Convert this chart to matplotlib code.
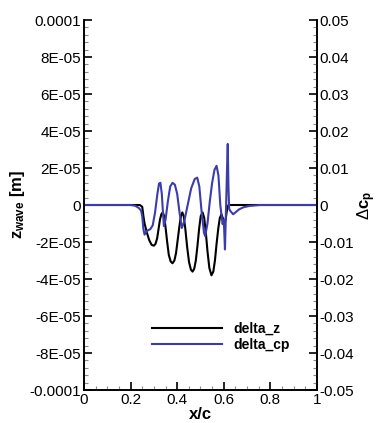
import numpy as np
import matplotlib
matplotlib.use("Agg")
import matplotlib.pyplot as plt
from matplotlib.ticker import MultipleLocator, FuncFormatter

# wave height, x/c vs z (units of 1e-5 m)
x_z = [0.0, 0.24, 0.25, 0.255, 0.26, 0.27, 0.28, 0.29, 0.30, 0.307, 0.314, 0.32,
       0.326, 0.332, 0.338, 0.344, 0.35, 0.357, 0.364, 0.372, 0.38, 0.388,
       0.395, 0.402, 0.409, 0.416, 0.422, 0.428, 0.435, 0.443, 0.451, 0.459,
       0.466, 0.473, 0.48, 0.487, 0.494, 0.501, 0.509, 0.516, 0.523, 0.53,
       0.538, 0.547, 0.555, 0.562, 0.569, 0.576, 0.583, 0.59, 0.597, 0.603,
       0.608, 0.612, 0.617, 0.62, 1.0]
z_wave = [0.0, 0.0, -0.1, -0.6, -1.0, -1.5, -1.9, -2.15, -2.2, -2.1, -1.8, -1.3,
          -0.8, -0.5, -0.4, -0.6, -1.2, -2.0, -2.7, -3.05, -3.15, -3.0,
          -2.6, -1.9, -1.2, -0.6, -0.4, -0.6, -1.3, -2.3, -3.1, -3.5,
          -3.6, -3.45, -3.0, -2.2, -1.3, -0.6, -0.4, -0.7, -1.5, -2.5,
          -3.4, -3.8, -3.6, -3.0, -2.1, -1.3, -0.7, -0.5, -0.75, -0.95,
          -0.8, -0.4, -0.1, 0.0, 0.0]

# pressure coefficient difference (units of 1e-3)
x_cp = [0.0, 0.2, 0.22, 0.235, 0.245, 0.25, 0.255, 0.26, 0.27, 0.285, 0.295,
        0.305, 0.315, 0.322, 0.328, 0.334, 0.338, 0.343, 0.35, 0.36, 0.37, 0.38,
        0.39, 0.40, 0.41, 0.42, 0.43, 0.445, 0.46, 0.475, 0.486, 0.495, 0.505,
        0.515, 0.52, 0.53, 0.54, 0.55, 0.56, 0.569, 0.577, 0.585, 0.595, 0.6,
        0.605, 0.61, 0.614, 0.617, 0.62, 0.623, 0.628, 0.64, 0.65, 0.665, 0.685,
        0.71, 0.755, 1.0]
d_cp = [0.0, 0.0, -0.2, -0.8, -1.5, -3.0, -6.5, -8.0, -7.0, -6.5, -5.5,
        -2.0, 3.0, 5.8, 6.0, 3.0, -1.0, -5.7, -4.0, 1.0, 5.0, 6.0,
        5.5, 3.0, -2.0, -6.2, -4.5, 0.0, 4.5, 7.0, 7.4, 5.0, -2.0,
        -7.5, -8.4, -5.0, 1.0, 6.0, 9.5, 10.6, 8.0, 0.0, -5.2, -4.0,
        -12.0, 0.0, 10.0, 16.5, 5.0, -1.0, -1.6, -2.5, -2.0, -1.2, -0.6,
        -0.25, 0.0, 0.0]

plt.rcParams["font.family"] = ["Liberation Sans", "DejaVu Sans"]
plt.rcParams["mathtext.fontset"] = "custom"
plt.rcParams["mathtext.rm"] = "Liberation Sans"
plt.rcParams["mathtext.bf"] = "Liberation Sans:bold"

BLUE = "#3c3cac"

fig = plt.figure(figsize=(3.79, 4.23), dpi=100)
ax = fig.add_axes([0.2216, 0.078, 0.6148, 0.8747])
ax2 = ax.twinx()

l1, = ax.plot(x_z, np.array(z_wave) * 1e-5, color="black", lw=1.5, label="delta_z")
l2, = ax2.plot(x_cp, np.array(d_cp) * 1e-3, color=BLUE, lw=1.5, label="delta_cp")

ax.set_xlim(0, 1)
ax.set_ylim(-1e-4, 1e-4)
ax2.set_ylim(-0.05, 0.05)

ax.xaxis.set_major_locator(MultipleLocator(0.2))
ax.xaxis.set_minor_locator(MultipleLocator(0.05))
ax.yaxis.set_major_locator(MultipleLocator(2e-5))
ax.yaxis.set_minor_locator(MultipleLocator(0.4e-5))
ax2.yaxis.set_major_locator(MultipleLocator(0.01))
ax2.yaxis.set_minor_locator(MultipleLocator(0.002))


def left_fmt(v, pos):
    if abs(v) < 1e-12:
        return "0"
    if abs(abs(v) - 1e-4) < 1e-12:
        return "-0.0001" if v < 0 else "0.0001"
    return f"{round(v / 1e-5)}E-05"


def right_fmt(v, pos):
    if abs(v) < 1e-9:
        return "0"
    return f"{v:.2f}"


def x_fmt(v, pos):
    if abs(v) < 1e-9:
        return "0"
    if abs(v - 1) < 1e-9:
        return "1"
    return f"{v:.1f}"


ax.yaxis.set_major_formatter(FuncFormatter(left_fmt))
ax2.yaxis.set_major_formatter(FuncFormatter(right_fmt))
ax.xaxis.set_major_formatter(FuncFormatter(x_fmt))

for a in (ax, ax2):
    a.spines["top"].set_visible(False)
    for s in a.spines.values():
        s.set_linewidth(1.2)
ax.tick_params(which="both", direction="in", top=False, right=False, labelsize=11, pad=2)
ax.tick_params(which="major", length=6, width=1.2)
ax.tick_params(which="minor", length=3, width=0.8, color="#888888")
ax2.tick_params(which="both", direction="in", labelsize=11, pad=2)
ax2.tick_params(which="major", length=6, width=1.2)
ax2.tick_params(which="minor", length=3, width=0.8, color="#888888")

ax.set_xlabel("x/c", fontsize=12, fontweight="bold", labelpad=0)
ax.set_ylabel(r"$\mathbf{z_{wave}}$ [m]", fontsize=12, fontweight="bold", labelpad=2)
ax2.set_ylabel(r"$\Delta\mathbf{c_p}$", fontsize=12, labelpad=1)

leg = ax.legend(handles=[l1, l2], loc="lower left", bbox_to_anchor=(0.24, 0.07),
                frameon=False, prop={"weight": "bold", "size": 10},
                handlelength=5.0, handletextpad=0.8, labelspacing=0.1)

fig.savefig("out.png", dpi=100)
